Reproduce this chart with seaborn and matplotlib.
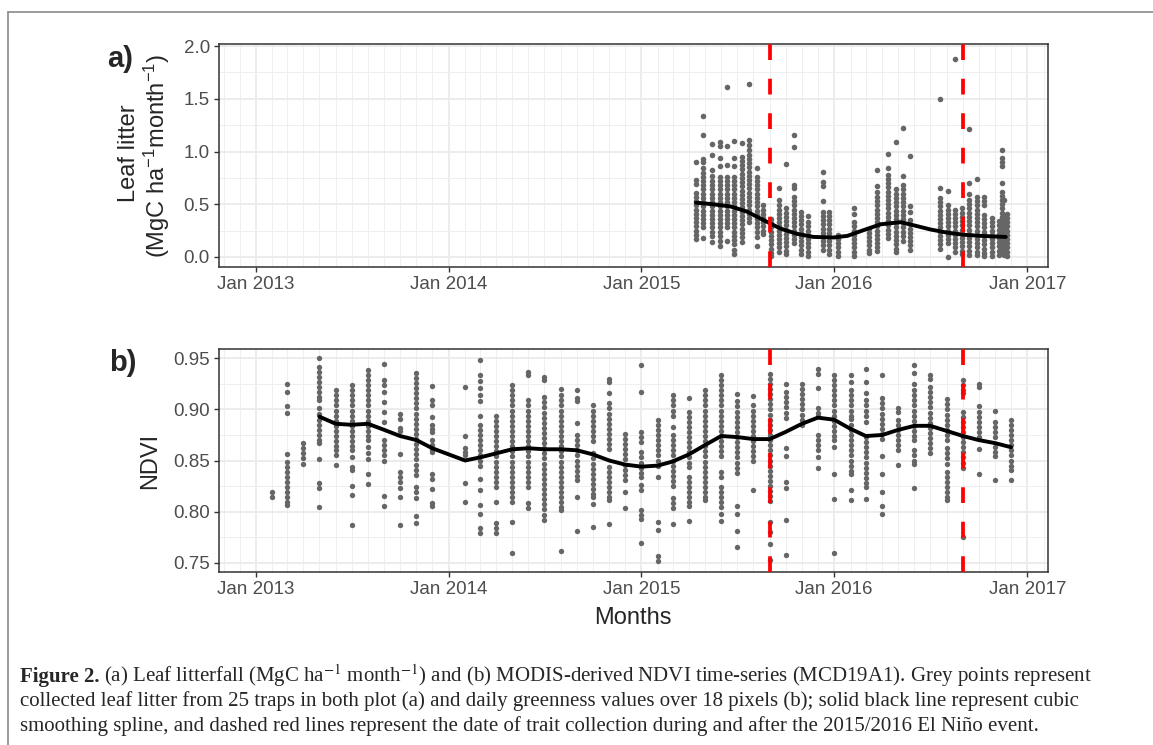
import numpy as np
import pandas as pd
import matplotlib
matplotlib.use("Agg")
import matplotlib.pyplot as plt
import matplotlib.dates as mdates
from matplotlib.ticker import MultipleLocator, FormatStrFormatter
from matplotlib.lines import Line2D
import seaborn as sns

# ---- (a) leaf litter: collection dates and trap values per collection ----
litter_dates = [
    "2015-04-15", "2015-04-28", "2015-05-15", "2015-05-29", "2015-06-12", "2015-06-26",
    "2015-07-11", "2015-07-24", "2015-08-08", "2015-08-20", "2015-09-03", "2015-09-18",
    "2015-10-02", "2015-10-16", "2015-10-30", "2015-11-13", "2015-12-11", "2015-12-23",
    "2016-01-09", "2016-02-08", "2016-03-07", "2016-03-23", "2016-04-11", "2016-04-27",
    "2016-05-11", "2016-05-24", "2016-07-20", "2016-08-03", "2016-08-17", "2016-08-30",
    "2016-09-13", "2016-09-27", "2016-10-11", "2016-10-25", "2016-11-09", "2016-11-13",
    "2016-11-18", "2016-11-23",
]
litter_values = [
    [0.90, 0.73, 0.69, 0.61, 0.57, 0.53, 0.49, 0.45, 0.41, 0.37, 0.33, 0.29, 0.25, 0.21, 0.17],
    [1.34, 1.16, 0.93, 0.90, 0.84, 0.80, 0.76, 0.72, 0.68, 0.64, 0.60, 0.56, 0.52, 0.48, 0.44, 0.40, 0.36, 0.32, 0.28, 0.18],
    [1.07, 0.97, 0.82, 0.77, 0.72, 0.68, 0.64, 0.60, 0.56, 0.52, 0.48, 0.44, 0.40, 0.36, 0.32, 0.28, 0.24, 0.20, 0.14],
    [1.09, 1.05, 0.94, 0.86, 0.76, 0.72, 0.68, 0.64, 0.60, 0.56, 0.52, 0.48, 0.44, 0.40, 0.36, 0.32, 0.28, 0.24, 0.20, 0.15, 0.10],
    [1.61, 1.05, 0.87, 0.76, 0.72, 0.68, 0.64, 0.60, 0.56, 0.52, 0.48, 0.44, 0.40, 0.36, 0.32, 0.28, 0.15],
    [1.10, 0.94, 0.86, 0.76, 0.72, 0.68, 0.64, 0.60, 0.56, 0.52, 0.48, 0.44, 0.40, 0.36, 0.32, 0.28, 0.24, 0.20, 0.16, 0.12, 0.07, 0.03],
    [1.08, 0.95, 0.91, 0.87, 0.83, 0.79, 0.75, 0.71, 0.67, 0.63, 0.59, 0.55, 0.51, 0.47, 0.43, 0.39, 0.35, 0.31, 0.27, 0.23, 0.19, 0.14],
    [1.64, 1.11, 1.06, 1.01, 0.97, 0.93, 0.89, 0.85, 0.81, 0.77, 0.73, 0.69, 0.65, 0.61, 0.57, 0.53, 0.49, 0.45, 0.41, 0.37, 0.33],
    [0.84, 0.76, 0.72, 0.68, 0.64, 0.60, 0.56, 0.52, 0.48, 0.44, 0.40, 0.36, 0.32, 0.28, 0.24, 0.19, 0.10],
    [0.49, 0.45, 0.41, 0.37, 0.33, 0.29, 0.25, 0.22],
    [0.36, 0.32, 0.28, 0.24, 0.20, 0.16, 0.12, 0.08, 0.04, 0.01],
    [0.65, 0.54, 0.49, 0.45, 0.41, 0.37, 0.33, 0.29, 0.25, 0.21, 0.17, 0.13, 0.09, 0.05],
    [0.88, 0.46, 0.42, 0.38, 0.34, 0.30, 0.26, 0.22, 0.18, 0.14, 0.10, 0.06, 0.03],
    [1.16, 1.04, 0.68, 0.65, 0.57, 0.53, 0.49, 0.45, 0.41, 0.37, 0.33, 0.29, 0.25, 0.21, 0.17, 0.13],
    [0.43, 0.39, 0.35, 0.31, 0.27, 0.23, 0.19, 0.15, 0.11, 0.07, 0.03],
    [0.39, 0.33, 0.29, 0.25, 0.21, 0.17, 0.13, 0.09, 0.05, 0.01],
    [0.81, 0.71, 0.67, 0.53, 0.43, 0.39, 0.35, 0.31, 0.27, 0.23, 0.19, 0.15, 0.11, 0.07],
    [0.43, 0.39, 0.35, 0.31, 0.27, 0.23, 0.19, 0.15, 0.11, 0.07, 0.03],
    [0.21, 0.17, 0.13, 0.09, 0.05, 0.01],
    [0.46, 0.41, 0.33, 0.29, 0.25, 0.21, 0.17, 0.13, 0.09, 0.05, 0.01],
    [0.27, 0.23, 0.19, 0.15, 0.11, 0.07, 0.04],
    [0.82, 0.67, 0.62, 0.57, 0.53, 0.49, 0.45, 0.41, 0.37, 0.33, 0.29, 0.25, 0.21, 0.17, 0.13, 0.09, 0.06],
    [0.98, 0.84, 0.78, 0.74, 0.70, 0.66, 0.62, 0.58, 0.54, 0.50, 0.46, 0.42, 0.38, 0.34, 0.30, 0.26, 0.22, 0.18],
    [1.09, 0.64, 0.60, 0.56, 0.52, 0.48, 0.44, 0.40, 0.36, 0.32, 0.28, 0.24, 0.20, 0.16, 0.12, 0.08, 0.05],
    [1.22, 0.77, 0.68, 0.64, 0.60, 0.56, 0.52, 0.48, 0.44, 0.40, 0.36, 0.32, 0.28, 0.24, 0.20, 0.15],
    [0.96, 0.48, 0.43, 0.35, 0.31, 0.27, 0.23, 0.19, 0.15, 0.11, 0.07],
    [1.50, 0.65, 0.56, 0.52, 0.48, 0.44, 0.40, 0.36, 0.32, 0.28, 0.24, 0.20, 0.16, 0.12, 0.08],
    [0.63, 0.49, 0.45, 0.41, 0.37, 0.33, 0.29, 0.25, 0.21, 0.17, 0.13, 0.00],
    [1.88, 0.45, 0.41, 0.37, 0.33, 0.29, 0.25, 0.21, 0.17, 0.13, 0.09, 0.05],
    [0.46, 0.42, 0.38, 0.34, 0.30, 0.26, 0.22, 0.18, 0.14, 0.10, 0.06, 0.03],
    [1.21, 0.70, 0.60, 0.54, 0.50, 0.46, 0.42, 0.38, 0.34, 0.30, 0.26, 0.22, 0.18, 0.14, 0.10, 0.06, 0.02],
    [0.74, 0.57, 0.53, 0.49, 0.45, 0.41, 0.37, 0.33, 0.29, 0.25, 0.21, 0.17, 0.13, 0.09, 0.05, 0.02],
    [0.57, 0.53, 0.49, 0.40, 0.36, 0.32, 0.28, 0.24, 0.20, 0.16, 0.12, 0.08, 0.04, 0.01],
    [0.37, 0.33, 0.29, 0.25, 0.21, 0.17, 0.13, 0.09, 0.05, 0.01],
    [0.34, 0.30, 0.26, 0.22, 0.18, 0.14, 0.10, 0.06, 0.02],
    [1.01, 0.94, 0.90, 0.86, 0.70, 0.62, 0.58, 0.54, 0.50, 0.46, 0.42, 0.38, 0.34, 0.30, 0.26, 0.22, 0.18, 0.14, 0.10, 0.06],
    [0.54, 0.38, 0.33, 0.29, 0.25, 0.21, 0.17, 0.13, 0.09, 0.05, 0.02],
    [0.41, 0.37, 0.33, 0.29, 0.25, 0.21, 0.17, 0.13, 0.09, 0.05, 0.01],
]

# smoothing spline
litter_smooth_dates = [
    "2015-04-14", "2015-05-16", "2015-06-18", "2015-07-20", "2015-08-20", "2015-09-21",
    "2015-10-22", "2015-11-23", "2015-12-31", "2016-01-26", "2016-02-26", "2016-03-29",
    "2016-05-06", "2016-05-31", "2016-07-02", "2016-08-03", "2016-09-04", "2016-10-05",
    "2016-11-21",
]
litter_smooth_values = [0.515, 0.50, 0.48, 0.43, 0.35, 0.27, 0.22, 0.19, 0.185, 0.20,
                        0.255, 0.31, 0.33, 0.30, 0.26, 0.23, 0.21, 0.20, 0.19]

# ---- (b) NDVI: monthly dates and pixel values per month ----
ndvi_dates = [
    "2013-02-01", "2013-03-01", "2013-04-01", "2013-05-01", "2013-06-01", "2013-07-01",
    "2013-08-01", "2013-09-01", "2013-10-01", "2013-11-01", "2013-12-01",
    "2014-02-01", "2014-03-01", "2014-04-01", "2014-05-01", "2014-06-01", "2014-07-01",
    "2014-08-01", "2014-09-01", "2014-10-01", "2014-11-01", "2014-12-01",
    "2015-01-01", "2015-02-01", "2015-03-01", "2015-04-01", "2015-05-01", "2015-06-01",
    "2015-07-01", "2015-08-01", "2015-09-01", "2015-10-01", "2015-11-01", "2015-12-01",
    "2016-01-01", "2016-02-01", "2016-03-01", "2016-04-01", "2016-05-01", "2016-06-01",
    "2016-07-01", "2016-08-01", "2016-09-01", "2016-10-01", "2016-11-01", "2016-12-01",
]
ndvi_values = [
    [0.819, 0.814],
    [0.925, 0.917, 0.903, 0.897, 0.856, 0.849, 0.844, 0.839, 0.834, 0.829, 0.824, 0.819, 0.814, 0.809, 0.806],
    [0.867, 0.862, 0.857, 0.852, 0.847],
    [0.950, 0.942, 0.937, 0.932, 0.927, 0.922, 0.917, 0.912, 0.909, 0.901, 0.896, 0.890, 0.885, 0.880, 0.875, 0.870, 0.867, 0.851, 0.828, 0.823, 0.804],
    [0.919, 0.914, 0.909, 0.904, 0.899, 0.894, 0.889, 0.884, 0.879, 0.874, 0.869, 0.864, 0.860, 0.855, 0.846],
    [0.924, 0.919, 0.914, 0.909, 0.904, 0.899, 0.894, 0.889, 0.884, 0.879, 0.874, 0.869, 0.864, 0.860, 0.853, 0.844, 0.841, 0.825, 0.816, 0.787],
    [0.939, 0.934, 0.929, 0.924, 0.919, 0.914, 0.909, 0.904, 0.899, 0.894, 0.889, 0.884, 0.879, 0.874, 0.870, 0.863, 0.857, 0.851, 0.837, 0.827],
    [0.945, 0.929, 0.924, 0.917, 0.907, 0.898, 0.888, 0.870, 0.865, 0.860, 0.855, 0.850, 0.815, 0.805],
    [0.896, 0.891, 0.882, 0.879, 0.856, 0.839, 0.834, 0.829, 0.823, 0.814, 0.787],
    [0.936, 0.931, 0.926, 0.921, 0.916, 0.911, 0.906, 0.901, 0.896, 0.891, 0.886, 0.881, 0.876, 0.871, 0.866, 0.861, 0.856, 0.851, 0.846, 0.841, 0.836, 0.824, 0.819, 0.813, 0.796, 0.789],
    [0.923, 0.909, 0.904, 0.893, 0.885, 0.881, 0.878, 0.870, 0.865, 0.860, 0.858, 0.837, 0.832, 0.822, 0.808, 0.805],
    [0.922, 0.874, 0.862, 0.858, 0.855, 0.828, 0.809],
    [0.949, 0.934, 0.928, 0.921, 0.914, 0.908, 0.894, 0.885, 0.880, 0.875, 0.870, 0.865, 0.860, 0.855, 0.850, 0.845, 0.832, 0.821, 0.806, 0.798, 0.784, 0.779],
    [0.894, 0.889, 0.884, 0.879, 0.874, 0.869, 0.864, 0.859, 0.854, 0.849, 0.844, 0.839, 0.834, 0.829, 0.824, 0.809, 0.789, 0.784, 0.779],
    [0.924, 0.919, 0.914, 0.909, 0.904, 0.899, 0.894, 0.889, 0.884, 0.879, 0.874, 0.869, 0.864, 0.859, 0.854, 0.849, 0.844, 0.839, 0.834, 0.829, 0.824, 0.819, 0.814, 0.809, 0.790, 0.759],
    [0.937, 0.934, 0.909, 0.904, 0.899, 0.894, 0.889, 0.884, 0.879, 0.874, 0.869, 0.864, 0.859, 0.854, 0.849, 0.844, 0.839, 0.834, 0.829, 0.824, 0.808, 0.803],
    [0.932, 0.929, 0.912, 0.907, 0.902, 0.897, 0.892, 0.887, 0.882, 0.877, 0.872, 0.867, 0.862, 0.857, 0.852, 0.847, 0.842, 0.837, 0.832, 0.827, 0.822, 0.817, 0.812, 0.807, 0.802, 0.797, 0.792],
    [0.920, 0.914, 0.909, 0.904, 0.899, 0.894, 0.889, 0.884, 0.879, 0.874, 0.869, 0.864, 0.859, 0.854, 0.849, 0.844, 0.839, 0.834, 0.829, 0.824, 0.819, 0.814, 0.809, 0.804, 0.801, 0.761],
    [0.919, 0.911, 0.908, 0.887, 0.875, 0.870, 0.865, 0.860, 0.855, 0.850, 0.845, 0.840, 0.835, 0.831, 0.814, 0.781],
    [0.904, 0.899, 0.894, 0.889, 0.884, 0.879, 0.874, 0.869, 0.857, 0.852, 0.847, 0.842, 0.837, 0.832, 0.827, 0.822, 0.817, 0.814, 0.807, 0.785],
    [0.930, 0.927, 0.916, 0.906, 0.901, 0.896, 0.891, 0.886, 0.881, 0.876, 0.871, 0.866, 0.861, 0.844, 0.839, 0.834, 0.829, 0.824, 0.819, 0.814, 0.811, 0.788],
    [0.876, 0.871, 0.866, 0.861, 0.856, 0.851, 0.846, 0.841, 0.836, 0.831, 0.819, 0.803],
    [0.944, 0.917, 0.878, 0.873, 0.868, 0.858, 0.853, 0.848, 0.843, 0.838, 0.834, 0.826, 0.821, 0.801, 0.797, 0.793, 0.769],
    [0.890, 0.885, 0.880, 0.875, 0.870, 0.865, 0.860, 0.855, 0.850, 0.845, 0.834, 0.790, 0.782, 0.756, 0.751],
    [0.914, 0.909, 0.904, 0.899, 0.894, 0.883, 0.875, 0.870, 0.865, 0.860, 0.855, 0.850, 0.845, 0.840, 0.835, 0.830, 0.825, 0.813, 0.808, 0.803, 0.788],
    [0.911, 0.898, 0.893, 0.888, 0.883, 0.878, 0.873, 0.868, 0.863, 0.858, 0.853, 0.848, 0.844, 0.834, 0.829, 0.824, 0.819, 0.814, 0.809, 0.805, 0.791],
    [0.919, 0.914, 0.909, 0.904, 0.899, 0.894, 0.889, 0.884, 0.879, 0.874, 0.869, 0.864, 0.859, 0.854, 0.849, 0.844, 0.839, 0.834, 0.829, 0.824, 0.819, 0.814, 0.811],
    [0.934, 0.929, 0.924, 0.919, 0.914, 0.909, 0.904, 0.899, 0.894, 0.889, 0.884, 0.879, 0.874, 0.869, 0.864, 0.859, 0.854, 0.839, 0.834, 0.824, 0.819, 0.814, 0.809, 0.804, 0.798, 0.791],
    [0.915, 0.908, 0.903, 0.898, 0.893, 0.888, 0.883, 0.878, 0.873, 0.868, 0.863, 0.858, 0.853, 0.848, 0.843, 0.838, 0.805, 0.798, 0.781, 0.765],
    [0.913, 0.904, 0.899, 0.894, 0.889, 0.884, 0.879, 0.874, 0.869, 0.864, 0.859, 0.854, 0.850, 0.821],
    [0.935, 0.930, 0.925, 0.920, 0.915, 0.910, 0.905, 0.900, 0.895, 0.890, 0.885, 0.880, 0.875, 0.870, 0.865, 0.860, 0.855, 0.850, 0.845, 0.840, 0.835, 0.830, 0.825, 0.820, 0.815, 0.810, 0.790, 0.780, 0.768, 0.752],
    [0.925, 0.917, 0.912, 0.907, 0.902, 0.897, 0.892, 0.862, 0.854, 0.829, 0.823, 0.792, 0.757],
    [0.925, 0.920, 0.915, 0.910, 0.905, 0.900, 0.895, 0.890, 0.885],
    [0.940, 0.935, 0.921, 0.901, 0.897, 0.894, 0.875, 0.870, 0.865, 0.860, 0.853, 0.843],
    [0.934, 0.929, 0.924, 0.919, 0.914, 0.909, 0.904, 0.899, 0.894, 0.889, 0.884, 0.879, 0.874, 0.870, 0.863, 0.837, 0.812, 0.759],
    [0.934, 0.927, 0.919, 0.914, 0.909, 0.904, 0.899, 0.894, 0.891, 0.885, 0.880, 0.875, 0.870, 0.865, 0.860, 0.855, 0.850, 0.845, 0.840, 0.837, 0.821, 0.811],
    [0.940, 0.927, 0.916, 0.909, 0.904, 0.899, 0.894, 0.888, 0.873, 0.868, 0.863, 0.858, 0.853, 0.848, 0.843, 0.838, 0.833, 0.828, 0.824, 0.812],
    [0.934, 0.911, 0.906, 0.901, 0.896, 0.891, 0.886, 0.881, 0.876, 0.871, 0.854, 0.837, 0.819, 0.805, 0.798],
    [0.901, 0.898, 0.890, 0.885, 0.880, 0.875, 0.870, 0.865, 0.860, 0.846],
    [0.944, 0.936, 0.925, 0.919, 0.914, 0.909, 0.904, 0.899, 0.894, 0.889, 0.884, 0.879, 0.874, 0.870, 0.860, 0.855, 0.850, 0.847, 0.823],
    [0.934, 0.930, 0.922, 0.917, 0.912, 0.907, 0.902, 0.897, 0.892, 0.887, 0.882, 0.877, 0.872, 0.867, 0.862, 0.857],
    [0.910, 0.905, 0.900, 0.895, 0.890, 0.885, 0.880, 0.875, 0.870, 0.862, 0.857, 0.852, 0.847, 0.839, 0.834, 0.829, 0.824, 0.819, 0.814, 0.811],
    [0.929, 0.924, 0.919, 0.916, 0.898, 0.893, 0.888, 0.883, 0.878, 0.873, 0.868, 0.863, 0.858, 0.853, 0.848, 0.843, 0.775],
    [0.925, 0.922, 0.903, 0.898, 0.893, 0.888, 0.883, 0.878, 0.873, 0.861, 0.837],
    [0.899, 0.888, 0.883, 0.878, 0.873, 0.863, 0.858, 0.854, 0.831],
    [0.890, 0.885, 0.880, 0.875, 0.870, 0.865, 0.860, 0.855, 0.850, 0.845, 0.841, 0.831],
]

# smoothing spline, monthly from May 2013
ndvi_smooth_dates = [
    "2013-05-01", "2013-06-01", "2013-07-01", "2013-08-01", "2013-09-01", "2013-10-01",
    "2013-11-01", "2013-12-01", "2014-01-01", "2014-02-01", "2014-03-01", "2014-04-01",
    "2014-05-01", "2014-06-01", "2014-07-01", "2014-08-01", "2014-09-01", "2014-10-01",
    "2014-11-01", "2014-12-01", "2015-01-01", "2015-02-01", "2015-03-01", "2015-04-01",
    "2015-05-01", "2015-06-01", "2015-07-01", "2015-08-01", "2015-09-01", "2015-10-01",
    "2015-11-01", "2015-12-01", "2016-01-01", "2016-02-01", "2016-03-01", "2016-04-01",
    "2016-05-01", "2016-06-01", "2016-07-01", "2016-08-01", "2016-09-01", "2016-10-01",
    "2016-11-01", "2016-12-01",
]
ndvi_smooth_values = [
    0.893, 0.886, 0.885, 0.886, 0.880, 0.874, 0.870, 0.862, 0.856, 0.850, 0.853, 0.857,
    0.861, 0.862, 0.861, 0.861, 0.860, 0.856, 0.850, 0.846, 0.844, 0.845, 0.849, 0.856,
    0.865, 0.874, 0.873, 0.871, 0.871, 0.878, 0.886, 0.892, 0.890, 0.881, 0.874, 0.875,
    0.880, 0.884, 0.884, 0.879, 0.874, 0.870, 0.867, 0.863,
]

# trait collection dates (dashed red lines)
event_dates = ["2015-09-01", "2016-09-01"]

caption_lines = [
    r"(a) Leaf litterfall (MgC ha$^{-1}$ month$^{-1}$) and (b) MODIS-derived NDVI time-series (MCD19A1). Grey points represent",
    "collected leaf litter from 25 traps in both plot (a) and daily greenness values over 18 pixels (b); solid black line represent cubic",
    "smoothing spline, and dashed red lines represent the date of trait collection during and after the 2015/2016 El Niño event.",
]


def to_frame(dates, values):
    counts = [len(v) for v in values]
    return pd.DataFrame({
        "date": pd.to_datetime(np.repeat(dates, counts)),
        "value": np.concatenate(values),
    })


litter = to_frame(litter_dates, litter_values)
ndvi = to_frame(ndvi_dates, ndvi_values)

sns.set_style("white")
plt.rcParams["font.family"] = ["Liberation Sans", "DejaVu Sans"]
plt.rcParams["mathtext.fontset"] = "custom"
plt.rcParams["mathtext.rm"] = "Liberation Sans"
plt.rcParams["mathtext.it"] = "Liberation Sans:italic"
plt.rcParams["mathtext.bf"] = "Liberation Sans:bold"

W, H = 1153, 745
fig = plt.figure(figsize=(W / 100, H / 100), dpi=100)
fig.patch.set_facecolor("white")

# outer frame (top and left edge of the page crop)
fig.add_artist(Line2D([8 / W, 8 / W], [0, 1 - 12 / H], transform=fig.transFigure, color="#8a8a8a", lw=1.2))
fig.add_artist(Line2D([8 / W, 1], [1 - 12 / H, 1 - 12 / H], transform=fig.transFigure, color="#8a8a8a", lw=1.2))

left, right = 219, 1047.5
ax_a = fig.add_axes([left / W, 1 - 267 / H, (right - left) / W, (267 - 43.5) / H])
ax_b = fig.add_axes([left / W, 1 - 571.7 / H, (right - left) / W, (571.7 - 349) / H])

pt_color = "#666666"
sns.scatterplot(data=litter, x="date", y="value", ax=ax_a, color=pt_color, s=16, linewidth=0, zorder=2)
sns.lineplot(x=pd.to_datetime(litter_smooth_dates), y=litter_smooth_values, ax=ax_a, color="black", lw=2.8, zorder=3)

sns.scatterplot(data=ndvi, x="date", y="value", ax=ax_b, color=pt_color, s=15, linewidth=0, zorder=2)
sns.lineplot(x=pd.to_datetime(ndvi_smooth_dates), y=ndvi_smooth_values, ax=ax_b, color="black", lw=2.8, zorder=3)

for ax in (ax_a, ax_b):
    for d in event_dates:
        ax.axvline(pd.Timestamp(d), color="red", lw=2.7, dashes=(4.2, 5.0), zorder=4)

xmin, xmax = pd.Timestamp("2012-10-23"), pd.Timestamp("2017-02-08")


def style_axis(ax, ylim, major, minor, fmt):
    ax.set_xlim(xmin, xmax)
    ax.set_ylim(*ylim)
    ax.xaxis.set_major_locator(mdates.YearLocator())
    ax.xaxis.set_major_formatter(mdates.DateFormatter("%b %Y"))
    ax.xaxis.set_minor_locator(mdates.MonthLocator())
    ax.yaxis.set_major_locator(MultipleLocator(major))
    ax.yaxis.set_minor_locator(MultipleLocator(minor))
    ax.yaxis.set_major_formatter(FormatStrFormatter(fmt))
    ax.grid(which="major", color="#EBEBEB", lw=1.3)
    ax.grid(which="minor", color="#EFEFEF", lw=0.7)
    ax.set_axisbelow(True)
    ax.tick_params(which="major", length=3.5, width=1.0, color="#333333",
                   labelsize=13.5, labelcolor="#4D4D4D", pad=3, bottom=True, left=True)
    ax.tick_params(which="minor", length=0)
    for s in ax.spines.values():
        s.set_color("#333333")
        s.set_linewidth(1.1)
    ax.set_xlabel("")
    ax.set_ylabel("")


style_axis(ax_a, (-0.095, 2.024), 0.5, 0.25, "%.1f")
style_axis(ax_b, (0.741, 0.9593), 0.05, 0.025, "%.2f")

# panel letters and axis titles
fig.text(120 / W, 1 - 59 / H, "a)", fontsize=21, fontweight="bold", ha="center", va="center")
fig.text(123 / W, 1 - 363 / H, "b)", fontsize=21, fontweight="bold", ha="center", va="center")
fig.text(129 / W, 1 - 153 / H, "Leaf litter", rotation=90, ha="center", va="center", fontsize=17)
fig.text(157 / W, 1 - 155.5 / H, "(MgC ha$^{-1}$month$^{-1}$)", rotation=90,
         ha="center", va="center", fontsize=17)
fig.text(150 / W, 1 - 460.5 / H, "NDVI", rotation=90, ha="center", va="center", fontsize=17)
fig.text(633 / W, 1 - 618 / H, "Months", ha="center", va="center", fontsize=17)

# caption
cap_font = "Liberation Serif"
cap_size = 15
baselines = [682, 706, 731]
t_bold = fig.text(20 / W, 1 - baselines[0] / H, "Figure 2.", fontfamily=cap_font, fontweight="bold",
                  fontsize=cap_size, va="baseline", ha="left")
fig.canvas.draw()
bb = t_bold.get_window_extent()
fig.text((bb.x1 + 4) / W, 1 - baselines[0] / H, caption_lines[0], fontfamily=cap_font,
         math_fontfamily="stix", fontsize=cap_size, va="baseline", ha="left")
for line, yb in zip(caption_lines[1:], baselines[1:]):
    fig.text(20 / W, 1 - yb / H, line, fontfamily=cap_font, fontsize=cap_size, va="baseline", ha="left")

fig.savefig("out.png", dpi=100, facecolor="white")
